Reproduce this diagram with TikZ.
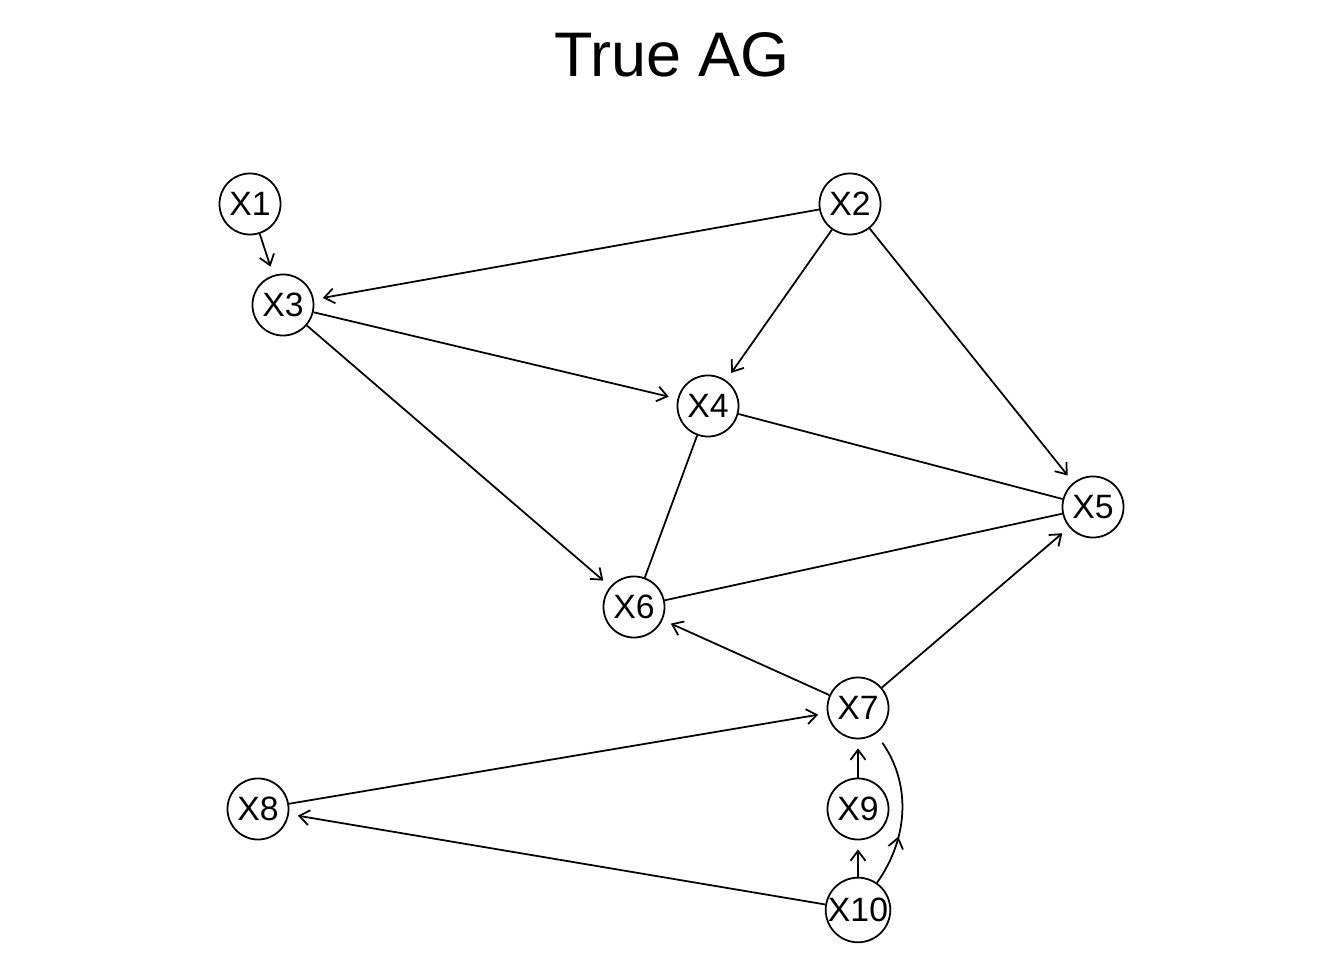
\documentclass[tikz,border=0pt]{standalone}
\usepackage{fontspec}
\setmainfont{Liberation Sans}
\usetikzlibrary{arrows.meta,decorations.markings}
\tikzset{
  >={Straight Barb[length=1mm,width=1.5mm]},
  vx/.style={circle,draw=black,line width=.5pt,fill=white,minimum size=6.1mm,inner sep=0pt,font=\fontsize{9.6}{11}\selectfont},
  directed/.style={->,line width=.5pt,shorten >=.9mm},
  undir/.style={line width=.5pt},
  midarrow/.style={line width=.5pt,shorten >=1.1mm,postaction={decorate},
    decoration={markings,mark=at position #1 with {\arrow{>}}}}
}
\begin{document}
\begin{tikzpicture}[x=0.01cm,y=0.01cm]
  \useasboundingbox (0,0) rectangle (1344,960);
  \node[font=\fontsize{17.9}{20}\selectfont] (title) at (672,905) {True AG};
  % vertices
  \node[vx] (x1) at (250,756) {X1};  \node[vx] (x2) at (850,756) {X2};
  \node[vx] (x3) at (283,655) {X3};  \node[vx] (x4) at (708,554) {X4};
  \node[vx] (x5) at (1093,453) {X5}; \node[vx] (x6) at (634,353) {X6};
  \node[vx] (x7) at (858,252) {X7};  \node[vx] (x8) at (258,151) {X8};
  \node[vx] (x9) at (858,151) {X9};  \node[vx] (x10) at (858,50) {X10};
  % edges
  \draw[directed] (x1)--(x3);
  \draw[directed] (x2)--(x3);
  \draw[directed] (x2)--(x4);
  \draw[directed] (x2)--(x5);
  \draw[directed] (x3)--(x4);
  \draw[directed] (x3)--(x6);
  \draw[undir] (x4)--(x5);
  \draw[undir] (x4)--(x6);
  \draw[undir] (x6)--(x5);
  \draw[directed] (x7)--(x6);
  \draw[directed] (x7)--(x5);
  \draw[directed] (x8)--(x7);
  \draw[directed] (x10)--(x8);
  \draw[directed] (x9)--(x7);
  \draw[directed] (x10)--(x9);
  \draw[midarrow=0.32] (x10) to[out=55,in=-55] (x7);
\end{tikzpicture}
\end{document}
